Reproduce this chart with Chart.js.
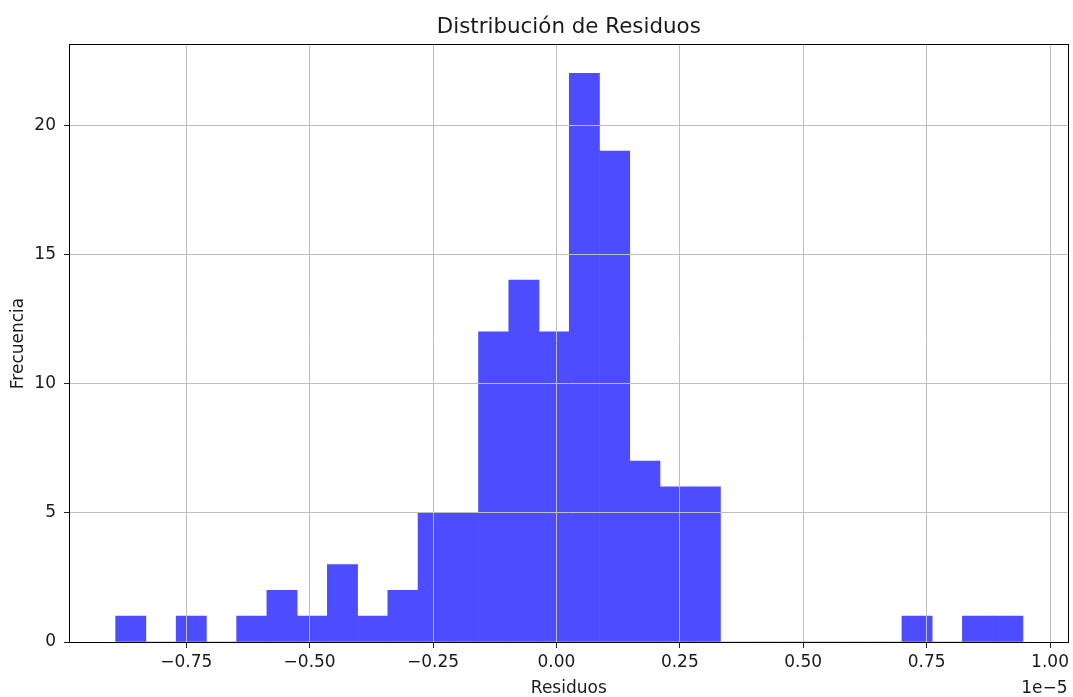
<!DOCTYPE html>
<html>
<head>
<meta charset="utf-8">
<script src="https://cdn.jsdelivr.net/npm/chart.js@4/dist/chart.umd.min.js"></script>
<style>
  html, body { margin: 0; padding: 0; background: #ffffff; }
  #wrap { width: 1073px; height: 697px; }
</style>
</head>
<body>
<div id="wrap"><canvas id="c" width="1073" height="697"></canvas></div>
<script>
// Residual histogram: 30 equal-width bins, x values expressed in units of 1e-5
const binCenters = [
  -0.8624, -0.8011, -0.7398, -0.6786, -0.6173, -0.5560, -0.4948, -0.4335, -0.3722, -0.3110,
  -0.2497, -0.1884, -0.1272, -0.0659, -0.0046,  0.0566,  0.1179,  0.1792,  0.2404,  0.3017,
   0.3630,  0.4242,  0.4855,  0.5468,  0.6080,  0.6693,  0.7306,  0.7918,  0.8531,  0.9144
];
const frequencies = [
  1, 0, 1, 0, 1, 2, 1, 3, 1, 2,
  5, 5, 12, 14, 12, 22, 19, 7, 6, 6,
  0, 0, 0, 0, 0, 0, 1, 0, 1, 1
];
const xTickValues = [-0.75, -0.50, -0.25, 0.00, 0.25, 0.50, 0.75, 1.00];
const yTickValues = [0, 5, 10, 15, 20];
const xLimits = [-0.9855, 1.0356];
const yLimits = [0, 23.1];
const chartTitle = 'Distribución de Residuos';
const offsetLabel = '1e\u22125';

const FONT = '"DejaVu Sans", "Liberation Sans", sans-serif';
const TEXT = '#1a1a1a';

// title centred over the axes, closed box around the plotting area,
// and the exponent label of the x axis
const framePlugin = {
  id: 'frame',
  afterDraw(chart) {
    const { ctx, chartArea: a } = chart;
    ctx.save();
    ctx.strokeStyle = '#000000';
    ctx.lineWidth = 1;
    ctx.strokeRect(Math.round(a.left) - 0.5, Math.round(a.top) - 0.5,
                   Math.round(a.right - a.left) + 1, Math.round(a.bottom - a.top) + 1);
    ctx.fillStyle = TEXT;
    ctx.font = '21.4px ' + FONT;
    ctx.textAlign = 'center';
    ctx.textBaseline = 'middle';
    ctx.fillText(chartTitle, (a.left + a.right) / 2, 27);
    ctx.font = '17px ' + FONT;
    ctx.textAlign = 'right';
    ctx.textBaseline = 'alphabetic';
    ctx.fillText(offsetLabel, a.right, 693);
    ctx.restore();
  }
};

const fmt = v => {
  const s = Math.abs(v).toFixed(2);
  return v < -1e-9 ? '\u2212' + s : s;
};

new Chart(document.getElementById('c'), {
  type: 'bar',
  data: {
    datasets: [{
      data: binCenters.map((x, i) => ({ x: x, y: frequencies[i] })),
      backgroundColor: 'rgb(77, 77, 255)',
      borderWidth: 0,
      barPercentage: 1.0,
      categoryPercentage: 1.0
    }]
  },
  options: {
    responsive: false,
    animation: false,
    layout: { padding: { left: 0, right: 3, top: 45, bottom: 0 } },
    plugins: {
      legend: { display: false },
      tooltip: { enabled: false },
      title: { display: false }
    },
    scales: {
      x: {
        type: 'linear',
        offset: false,
        min: xLimits[0],
        max: xLimits[1],
        afterBuildTicks: s => { s.ticks = xTickValues.map(v => ({ value: v })); },
        afterFit: s => { s.height = 55; },
        grid: {
          offset: false,
          z: 1,
          color: '#bdbdbd',
          lineWidth: 1,
          tickLength: 6,
          tickColor: '#222222'
        },
        border: { display: false },
        ticks: {
          color: TEXT,
          padding: 4,
          maxRotation: 0,
          autoSkip: false,
          font: { family: FONT, size: 17 },
          callback: v => fmt(v)
        },
        title: {
          display: true,
          text: 'Residuos',
          color: TEXT,
          font: { family: FONT, size: 17, lineHeight: 1.0 },
          padding: { top: 0, bottom: 0 }
        }
      },
      y: {
        type: 'linear',
        min: yLimits[0],
        max: yLimits[1],
        afterBuildTicks: s => { s.ticks = yTickValues.map(v => ({ value: v })); },
        afterFit: s => { s.width = 70; },
        grid: {
          z: 1,
          color: '#bdbdbd',
          lineWidth: 1,
          tickLength: 6,
          tickColor: '#222222'
        },
        border: { display: false },
        ticks: {
          color: TEXT,
          padding: 8,
          autoSkip: false,
          font: { family: FONT, size: 17 },
          callback: v => String(v)
        },
        title: {
          display: true,
          text: 'Frecuencia',
          color: TEXT,
          font: { family: FONT, size: 17, lineHeight: 1.2 },
          padding: { top: 8, bottom: 0 }
        }
      }
    }
  },
  plugins: [framePlugin]
});
</script>
</body>
</html>
